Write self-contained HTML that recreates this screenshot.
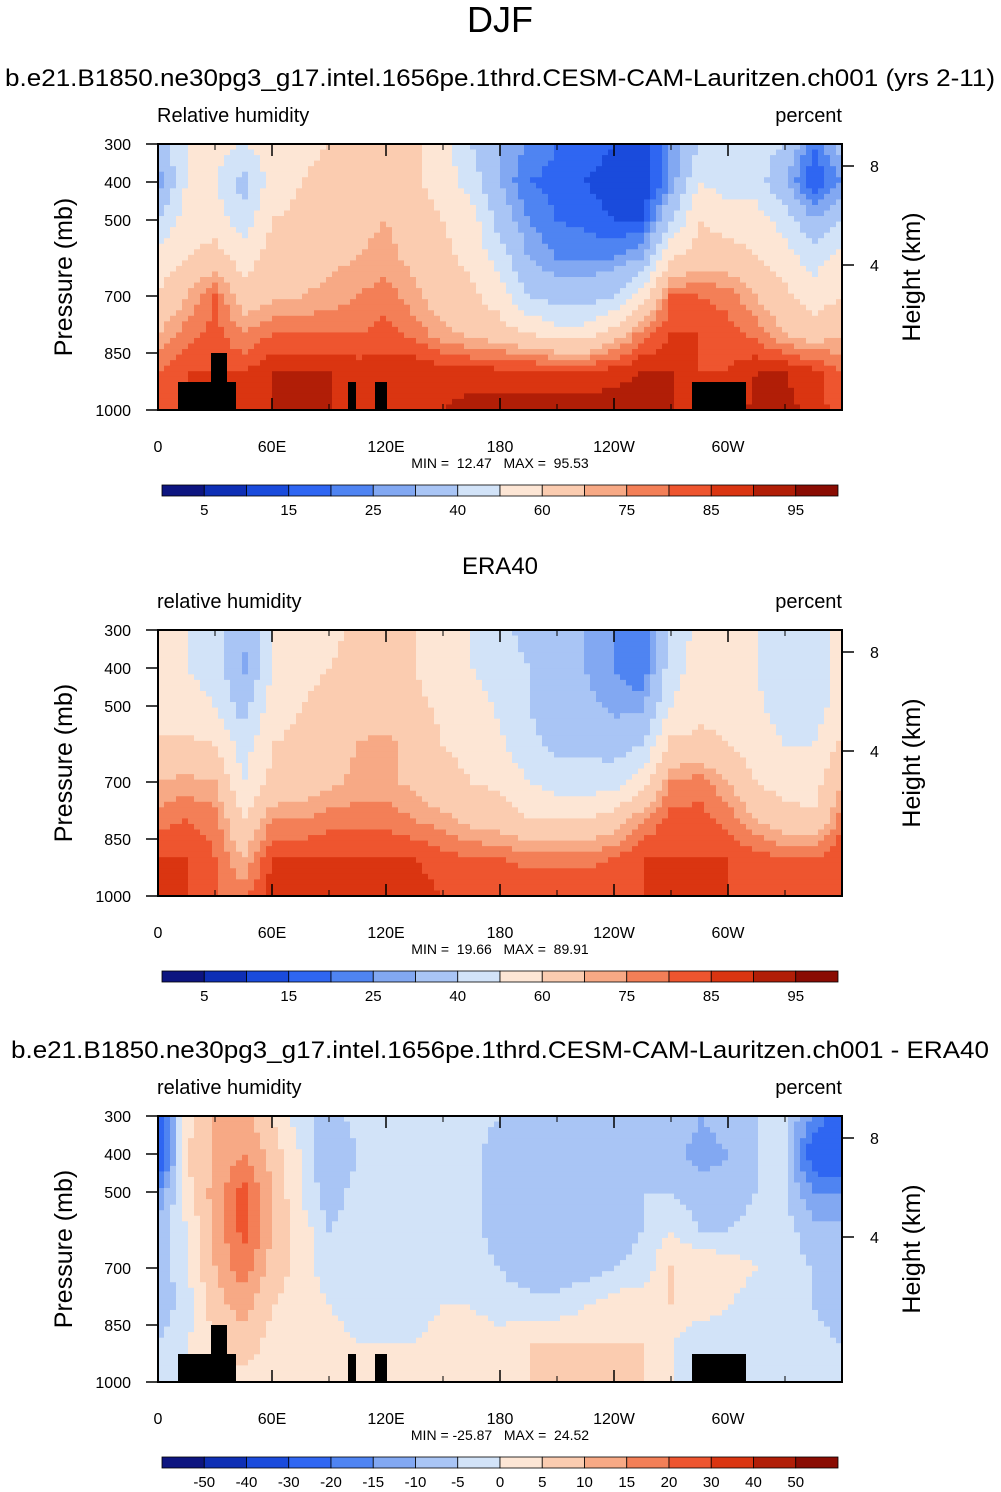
<!DOCTYPE html>
<html><head><meta charset="utf-8"><style>
html,body{margin:0;padding:0;background:#fff;}
svg{display:block;font-family:"Liberation Sans",sans-serif;}
</style></head><body>
<svg id="fig" width="1001" height="1492" viewBox="0 0 1001 1492"></svg>
<script>
// ---- data ----
const lons = [0,15,30,45,60,75,90,105,120,135,150,165,180,195,210,225,240,255,270,285,300,315,330,345];
const pressures = [300,400,500,600,700,800,900,1000];
const modelRH = [
[35,25,40,55,60,70,80,82],[50,50,55,60,70,78,85,85],[55,50,55,65,80,82,85,85],[50,35,45,55,65,75,85,85],
[55,55,60,65,68,80,90,90],[58,60,62,65,70,80,90,90],[60,62,65,68,72,80,90,90],[62,65,68,70,75,80,88,88],
[62,65,70,72,78,82,88,88],[62,62,65,68,72,78,90,90],[55,55,60,62,65,72,88,90],[40,45,55,58,62,68,87,92],
[30,30,35,45,55,65,87,93],[25,20,25,30,40,60,87,93],[20,18,20,25,35,55,86,93],[18,15,18,25,35,55,86,93],
[15,12,15,25,40,65,88,93],[10,10,15,30,55,78,90,93],[25,25,40,60,80,85,90,90],[40,50,60,65,80,85,85,85],
[45,45,55,65,78,82,85,85],[45,45,55,60,70,78,90,92],[40,30,45,55,62,70,90,92],[20,15,30,45,55,65,87,88]];
const eraRH = [
[55,55,55,62,70,78,85,85],[50,50,55,62,72,80,85,85],[45,45,50,60,70,78,80,80],[30,28,35,45,50,60,70,78],
[50,50,55,60,62,75,85,88],[58,58,60,62,65,75,85,88],[58,60,62,65,68,78,85,88],[62,62,65,70,72,78,85,88],
[62,62,65,72,72,78,85,88],[60,60,62,68,68,75,85,88],[58,55,58,60,62,72,82,85],[50,50,55,58,60,68,80,85],
[45,45,48,52,58,65,80,85],[35,40,40,42,50,60,78,85],[30,35,35,38,45,60,78,85],[30,30,32,38,45,60,78,85],
[25,25,28,35,45,65,80,85],[22,20,28,40,55,75,85,85],[40,45,50,62,75,82,85,85],[55,55,58,62,78,82,85,85],
[55,55,58,60,70,78,85,85],[50,50,52,55,60,70,82,85],[40,40,45,50,55,65,80,85],[40,40,45,50,55,62,80,82]];
const diffRH = [
[-25,-30,-15,-8,-10,-8,-5,-3],[3,5,3,0,0,-3,0,0],[10,10,12,12,10,8,5,3],[12,15,22,22,18,12,8,3],
[5,8,10,10,8,5,3,3],[-3,0,0,3,3,3,3,3],[-8,-10,-8,-5,-3,0,3,3],[-3,-5,-3,-3,-3,-3,0,3],
[-3,-3,-3,-3,-3,-3,0,0],[-3,-3,-3,-3,-3,-3,0,3],[-3,-3,-3,-3,-3,0,3,3],[-3,-3,-3,-3,-3,0,3,3],
[-5,-8,-8,-8,-5,-3,3,5],[-8,-10,-8,-8,-8,-3,5,5],[-8,-8,-10,-10,-8,-3,5,5],[-10,-10,-10,-8,-8,0,5,5],
[-8,-8,-8,-8,-5,3,5,5],[-5,-5,-5,-5,-3,3,5,5],[-5,-8,-5,0,5,5,0,0],[-10,-12,-8,-5,5,3,-5,-5],
[-8,-10,-8,-5,3,0,-3,-3],[-5,-5,-5,-3,0,-3,-3,-3],[-5,-5,-5,-3,-3,-3,-3,0],[-15,-25,-15,-8,-5,-5,-3,-3]];
const rhLevels = [5,10,15,20,25,30,40,50,60,70,75,80,85,90,95];
const diffLevels = [-50,-40,-30,-20,-15,-10,-5,0,5,10,15,20,30,40,50];
const rhLabels = ["5","15","25","40","60","75","85","95"];
const diffLabels = ["-50","-40","-30","-20","-15","-10","-5","0","5","10","15","20","30","40","50"];
const lonTicks = [0,60,120,180,240,300];
const lonTickLabels = ["0","60E","120E","180","120W","60W"];
const pTicks = [300,400,500,700,850,1000];
const hTicks = [8,4];
const hTickY = [22,121];
const colors = ["#0d1580","#0e2fb5","#1a4bdc","#2f66f2","#4f84f2","#82a8f2","#a9c5f5","#d2e3f8","#fde6d5","#fbccb0","#f7a985","#f37f57","#ee552f","#da3511","#b11e07","#8a0c03"];

const NS="http://www.w3.org/2000/svg";
const svg=document.getElementById('fig');
function el(tag,attrs,parent){const e=document.createElementNS(NS,tag);for(const k in attrs)e.setAttribute(k,attrs[k]);(parent||svg).appendChild(e);return e;}
function txt(x,y,s,size,anchor,parent,extra){const t=el('text',Object.assign({x:x,y:y,'font-size':size,'text-anchor':anchor||'start',fill:'#000'},extra||{}),parent);t.textContent=s;return t;}

const X0=158,W=684,H=266;
function xOf(lon){return X0+lon/360*W;}
function yOf(p,top){return top+(p-300)/700*H;}
function colorFor(v,levels){let i=0;while(i<levels.length&&v>=levels[i])i++;return colors[i];}
function sample(data,lon,p){
  const fl=lon/15, i0=Math.floor(fl)%24, i1=(i0+1)%24, fx=fl-Math.floor(fl);
  let fp=(p-300)/100; if(fp<0)fp=0; if(fp>7)fp=7;
  const j0=Math.min(Math.floor(fp),6), j1=j0+1, fy=fp-j0;
  const a=data[i0][j0]*(1-fx)+data[i1][j0]*fx, b=data[i0][j1]*(1-fx)+data[i1][j1]*fx;
  return a*(1-fy)+b*fy;
}

function panel(top,data,levels,labels,leftLabel,minmax,terrain){
  const g=el('g',{},svg);
  
  
  const nx=114,ny=48,cw=W/nx,ch=H/ny;
  for(let i=0;i<nx;i++)for(let j=0;j<ny;j++){
    const lon=(i+0.5)/nx*360, p=300+(j+0.5)/ny*700;
    const r=el('rect',{x:(X0+i*cw).toFixed(2),y:(top+j*ch).toFixed(2),width:(cw+0.6).toFixed(2),height:(ch+0.6).toFixed(2),fill:colorFor(sample(data,lon,p),levels)},g);
    
    
  }
  if(terrain){
    const tb=[[178,382,58,28],[211,353,16,29],[348,382,8,28],[375,382,12,28],[692,382,54,28]];
    tb.forEach(b=>{const r=el('rect',{x:b[0],y:b[1]-144+top,width:b[2],height:b[3],fill:'#000'},g);
      });
  }
  const fr=el('rect',{x:X0,y:top,width:W,height:H,fill:'none',stroke:'#000','stroke-width':2},g);
  
  lonTicks.forEach((lo,k)=>{const x=xOf(lo);
    el('line',{x1:x,y1:top+H,x2:x,y2:top+H-12,stroke:'#000','stroke-width':1.5},g);
    el('line',{x1:x,y1:top,x2:x,y2:top+12,stroke:'#000','stroke-width':1.5},g);
    const t=txt(x,top+H+42,lonTickLabels[k],16,'middle',g);
    
  });
  for(let lo=30;lo<360;lo+=60){const x=xOf(lo);
    el('line',{x1:x,y1:top+H,x2:x,y2:top+H-6,stroke:'#000'},g);el('line',{x1:x,y1:top,x2:x,y2:top+6,stroke:'#000'},g);}
  pTicks.forEach(p=>{const y=yOf(p,top);
    el('line',{x1:X0,y1:y,x2:X0-12,y2:y,stroke:'#000','stroke-width':1.5},g);
    const t=txt(131,y+6,String(p),16,'end',g);
    });
  hTicks.forEach((h,k)=>{const y=top+hTickY[k];
    el('line',{x1:X0+W,y1:y,x2:X0+W+12,y2:y,stroke:'#000','stroke-width':1.5},g);
    const t=txt(870,y+6,String(h),16,'start',g);
    });
  const yl=txt(0,0,'Pressure (mb)',25,'middle',g,{transform:`translate(72,${top+133}) rotate(-90)`});
  
  const yr=txt(0,0,'Height (km)',25,'middle',g,{transform:`translate(920,${top+133}) rotate(-90)`});
  
  const lt=txt(157,top-22,leftLabel,20,'start',g);
  const rt=txt(842,top-22,'percent',20,'end',g);
  const mm=txt(500,top+324,minmax,14,'middle',g,{'xml:space':'preserve'});
  mm.setAttributeNS('http://www.w3.org/XML/1998/namespace','xml:space','preserve');
  mm.style.whiteSpace='pre';
  
  const cb=el('g',{},g);
  const cy=top+341,bw=676/16;
  colors.forEach((c,i)=>{const r=el('rect',{x:162+i*bw,y:cy,width:bw,height:11,fill:c,stroke:'#000','stroke-width':0.8},cb);
    });
  const step=labels.length===8?2:1;
  labels.forEach((s,k)=>{const idx=step===2?2*k+1:k+1;
    const t=txt(162+idx*bw,cy+30,s,15,'middle',cb);});
}

const t1=txt(500,32,'DJF',36,'middle');
const t2=txt(500,86,'b.e21.B1850.ne30pg3_g17.intel.1656pe.1thrd.CESM-CAM-Lauritzen.ch001 (yrs 2-11)',24,'middle',null,{textLength:990,lengthAdjust:'spacingAndGlyphs'});
const t3=txt(500,574,'ERA40',24,'middle');
const t4=txt(500,1058,'b.e21.B1850.ne30pg3_g17.intel.1656pe.1thrd.CESM-CAM-Lauritzen.ch001 - ERA40',24,'middle',null,{textLength:978,lengthAdjust:'spacingAndGlyphs'});

panel(144,modelRH,rhLevels,rhLabels,'Relative humidity','MIN =  12.47   MAX =  95.53',true);
panel(630,eraRH,rhLevels,rhLabels,'relative humidity','MIN =  19.66   MAX =  89.91',false);
panel(1116,diffRH,diffLevels,diffLabels,'relative humidity','MIN = -25.87   MAX =  24.52',true);
</script>
</body></html>
